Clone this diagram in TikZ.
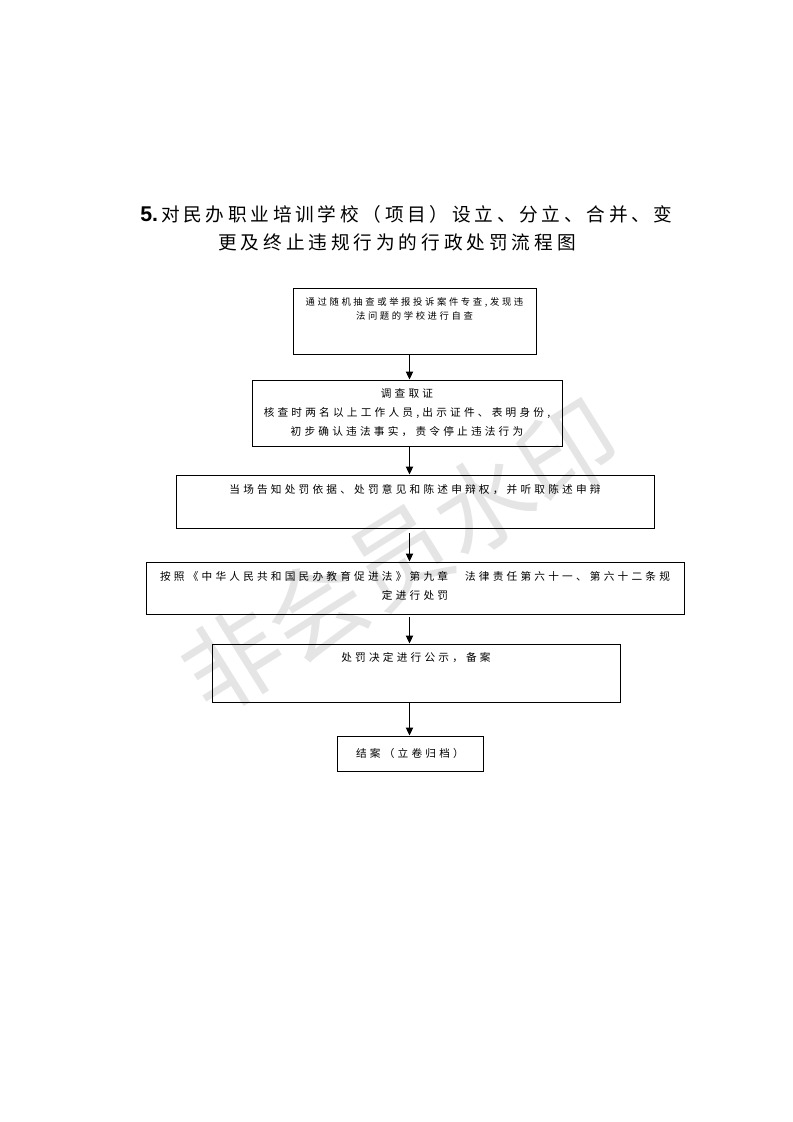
\documentclass[tikz,border=0pt]{standalone}
\usepackage{fontspec}
\setmainfont{Liberation Sans}
\newfontfamily\cjk{Noto Sans CJK SC}
\usetikzlibrary{positioning}
\usetikzlibrary{arrows.meta}
\tikzset{
  box/.style = {draw, line width=0.75pt, inner sep=0pt},
  txt/.style = {inner sep=0pt, align=center,
    font=\cjk\fontsize{8}{14.25}\selectfont\addfontfeature{LetterSpace=30}},
  txtsmall/.style = {txt,
    font=\cjk\fontsize{7}{10.5}\selectfont\addfontfeature{LetterSpace=28}},
  ttl/.style = {inner sep=0pt, anchor=west,
    font=\cjk\fontsize{14}{16}\selectfont\addfontfeature{LetterSpace=20}},
  wmark/.style = {inner sep=0pt, text=black!10,
    font=\cjk\fontsize{74}{74}\selectfont},
  arr/.style = {-{Triangle[length=6pt,width=5.5pt]}, line width=0.75pt}
}

\begin{document}
\begin{tikzpicture}[x=0.75pt, y=-0.75pt]
      \useasboundingbox (0,0) rectangle (793,1122);
      \node[wmark, rotate=32] (wm) at (400,556) {非会员水印};

      \node[ttl] (title1) at (140,214) {{\fontspec{Liberation Sans}\bfseries\fontsize{16}{16}\selectfont 5.}\,对民办职业培训学校（项目）设立、分立、合并、变};
      \node[ttl] (title2) at (218,242) {\addfontfeature{LetterSpace=21}更及终止违规行为的行政处罚流程图};

      \node[box, minimum width=182.25pt, minimum height=49.5pt] (b1) at (414.5,321) {};
      \node[box, minimum width=232.5pt, minimum height=49.5pt] (b2) at (407,413) {};
      \node[box, minimum width=358.5pt, minimum height=39.75pt] (b3) at (415,501.5) {};
      \node[box, minimum width=403.5pt, minimum height=39pt] (b4) at (415,588) {};
      \node[box, minimum width=306pt, minimum height=43.5pt] (b5) at (416,673) {};
      \node[box, minimum width=109.5pt, minimum height=26.25pt] (b6) at (410,753.5) {};

      \node[txtsmall, below=7.5pt of b1.north] (t1) {通过随机抽查或举报投诉案件专查,发现违\\法问题的学校进行自查};
      \node[txt, below=6.5pt of b2.north] (t2) {调查取证\\核查时两名以上工作人员,出示证件、表明身份,\\初步确认违法事实，责令停止违法行为};
      \node[txt, below=7pt of b3.north] (t3) {当场告知处罚依据、处罚意见和陈述申辩权，并听取陈述申辩};
      \node[txt, below=7pt of b4.north] (t4) {按照《中华人民共和国民办教育促进法》第九章　法律责任第六十一、第六十二条规\\定进行处罚};
      \node[txt, below=6.5pt of b5.north] (t5) {处罚决定进行公示，备案};
      \node[txt] (t6) at (b6.center) {结案（立卷归档）};

      \coordinate (ax) at (409.5,0);
      \draw[arr] (b1.south -| ax) -- (b2.north -| ax);
      \draw[arr] (b2.south -| ax) -- (b3.north -| ax);
      \draw[arr] ([yshift=-3.5pt]b3.south -| ax) -- (b4.north -| ax);
      \draw[arr] ([yshift=-2pt]b4.south -| ax) -- (b5.north -| ax);
      \draw[arr] (b5.south -| ax) -- (b6.north -| ax);
\end{tikzpicture}
\end{document}
